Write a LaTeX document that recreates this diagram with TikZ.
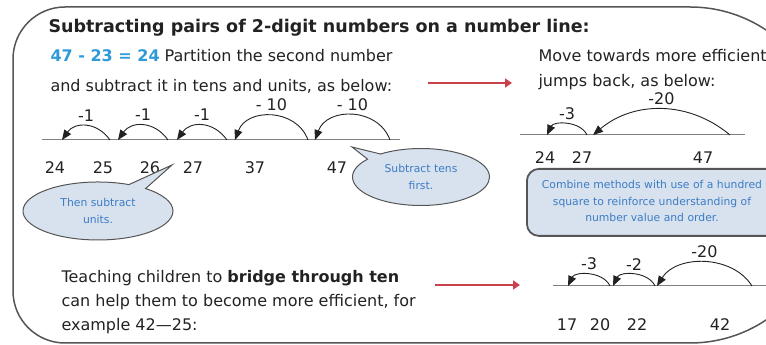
\documentclass[tikz,border=0pt]{standalone}
\usepackage{fontspec}
\setmainfont{DejaVu Sans}
\usetikzlibrary{arrows.meta,shapes.callouts,positioning}
\definecolor{ink}{HTML}{222222}
\definecolor{rim}{HTML}{555555}
\definecolor{sumblue}{HTML}{2E9AD8}
\definecolor{tipblue}{HTML}{3C7CC4}
\definecolor{bubblefill}{HTML}{D8E2EF}
\definecolor{redarrow}{HTML}{C9414B}
\newcommand{\Body}{\fontsize{16}{30}\selectfont}
\newcommand{\Note}{\fontsize{10.8}{16.5}\selectfont}
\tikzset{
  jump/.style={ink,line width=0.9pt,-{Triangle[length=10pt,width=8pt]}},
  numline/.style={draw=gray,line width=1pt},
  bubble/.style={ellipse callout,draw=rim,fill=bubblefill,line width=1pt,text=tipblue,font=\Note,align=center,inner sep=0pt},
  move/.style={redarrow,line width=2.6pt,-{Triangle[length=7pt,width=9pt]}},
}

\begin{document}
\begin{tikzpicture}[x=1pt,y=1pt,font=\Body,text=ink]
  \useasboundingbox (0,0) rectangle (766,345);
  \clip (0,0) rectangle (766,345);
  % frame
  \draw[rim,line width=1.5pt] (13,170) [rounded corners=52pt] -- (13,338) [rounded corners=137pt] -- (827,338) -- (827,2) [rounded corners=52pt] -- (13,2) -- cycle;
  \node[anchor=base west,font=\fontsize{17.5}{20}\selectfont\bfseries] (title) at (45,312) {Subtracting pairs of 2-digit numbers on a number line:};
  \node[anchor=base west,align=left] (partition) at (47,253) {\textcolor{sumblue}{\bfseries 47 - 23 = 24} Partition the second number\\and subtract it in tens and units, as below:};
  \node[anchor=base west,align=left,font=\fontsize{16}{25}\selectfont] (towards) at (535,258) {Move towards more efficient\\jumps back, as below:};
  \node[anchor=base west,align=left,font=\fontsize{16}{24}\selectfont] (bridge) at (58,14) {Teaching children to \textbf{bridge through ten}\\can help them to become more efficient, for\\example 42---25:};
  % red arrows
  \coordinate (m1s) at (428,262); \coordinate (m1e) at (512,262);
  \coordinate (m2s) at (435,60); \coordinate (m2e) at (520,60);
  \draw[move] (m1s) -- (m1e);
  \draw[move] (m2s) -- (m2e);
  % number line: partition
  \draw[numline] (42,205) -- (400,205);
  \foreach \n/\x in {24/55,25/103,26/150,27/193,37/255,47/337}
    \node (n\n) at (\x,177) {\n};
  \foreach \i/\s/\e/\lab/\b in {1/110/62/-1/55,2/168/118/-1/55,3/227/177/-1/55,4/308/235/- 10/70,5/390/315/- 10/70}{
    \coordinate (js\i) at (\s,205); \coordinate (je\i) at (\e,205);
    \draw[jump] (js\i) to[bend right=\b,looseness=1.2] node[above=1pt] {\lab} (je\i);}
  % number line: efficient jumps
  \draw[numline] (520,210) -- (745,210);
  \foreach \n/\x in {24/545,27/582,47/703}
    \node (r\n) at (\x,187) {\n};
  \coordinate (ks1) at (587,210); \coordinate (ke1) at (547,210);
  \coordinate (ks2) at (730,210); \coordinate (ke2) at (593,210);
  \draw[jump] (ks1) to[bend right=65] node[above=1pt] {-3} (ke1);
  \draw[jump] (ks2) to[bend right=40] node[above=1pt] {-20} (ke2);
  % number line: bridge through ten
  \draw[numline] (553,59) -- (766,59);
  \foreach \n/\x in {17/567,20/600,22/637,42/720}
    \node (b\n) at (\x,20) {\n};
  \foreach \i/\s/\e/\lab/\b in {1/610/568/-3/65,2/655/613/-2/65,3/752/657/-20/58}{
    \coordinate (bs\i) at (\s,59); \coordinate (be\i) at (\e,59);
    \draw[jump] (bs\i) to[bend right=\b] node[above=1pt] {\lab} (be\i);}
  % callouts
  \node[bubble,minimum width=150pt,minimum height=58pt,callout absolute pointer={(172,180)}] (units) at (98,134) {Then subtract\\units.};
  \node[bubble,minimum width=137pt,minimum height=57pt,callout absolute pointer={(352,198)}] (tens) at (421,168) {Subtract tens\\first.};
  \node[draw=rim,fill=bubblefill,line width=1.8pt,rounded corners=12pt,minimum width=260pt,minimum height=67pt,anchor=north west] (hundred) at (526,177) {};
  \node[text=tipblue,font=\Note,align=center] (hundredtext) at (652,144) {Combine methods with use of a hundred\\square to reinforce understanding of\\number value and order.};
\end{tikzpicture}
\end{document}
